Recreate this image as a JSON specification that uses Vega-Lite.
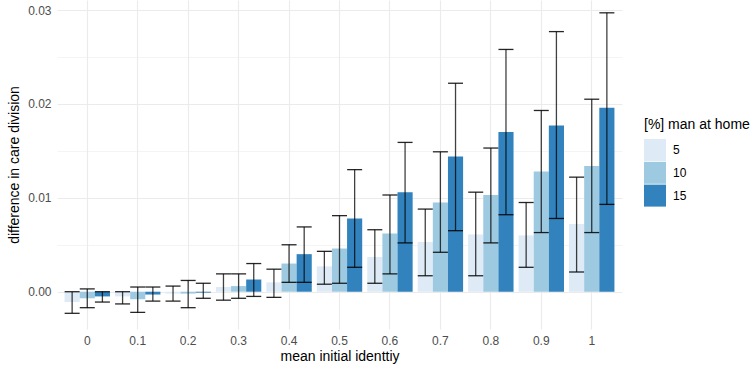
{
  "$schema": "https://vega.github.io/schema/vega-lite/v6.json",
  "width": 565,
  "height": 329,
  "autosize": {"type": "none"},
  "padding": {"left": 57, "top": 0, "right": 134, "bottom": 42},
  "background": "white",
  "config": {
    "font": "Liberation Sans",
    "view": {"stroke": null},
    "axis": {"domain": false, "ticks": false, "gridColor": "#ebebeb", "labelColor": "#4d4d4d", "labelFontSize": 12, "titleFontSize": 14, "titleFontWeight": "normal", "titleColor": "#000000", "labelFont": "Liberation Sans", "titleFont": "Liberation Sans"}
  },
  "data": {"values": [
    {"x": "0", "g": "5", "m": -0.0011, "lo": -0.0023, "hi": 0.0000},
    {"x": "0", "g": "10", "m": -0.0007, "lo": -0.0017, "hi": 0.0003},
    {"x": "0", "g": "15", "m": -0.0005, "lo": -0.0011, "hi": 0.0000},
    {"x": "0.1", "g": "5", "m": -0.0005, "lo": -0.0013, "hi": 0.0000},
    {"x": "0.1", "g": "10", "m": -0.0008, "lo": -0.0022, "hi": 0.0005},
    {"x": "0.1", "g": "15", "m": -0.0003, "lo": -0.0010, "hi": 0.0005},
    {"x": "0.2", "g": "5", "m": -0.0002, "lo": -0.0010, "hi": 0.0006},
    {"x": "0.2", "g": "10", "m": -0.0002, "lo": -0.0017, "hi": 0.0012},
    {"x": "0.2", "g": "15", "m": -0.0001, "lo": -0.0007, "hi": 0.0009},
    {"x": "0.3", "g": "5", "m": 0.0005, "lo": -0.0009, "hi": 0.0019},
    {"x": "0.3", "g": "10", "m": 0.0006, "lo": -0.0007, "hi": 0.0019},
    {"x": "0.3", "g": "15", "m": 0.0013, "lo": -0.0005, "hi": 0.0030},
    {"x": "0.4", "g": "5", "m": 0.0010, "lo": -0.0006, "hi": 0.0024},
    {"x": "0.4", "g": "10", "m": 0.0030, "lo": 0.0010, "hi": 0.0050},
    {"x": "0.4", "g": "15", "m": 0.0040, "lo": 0.0010, "hi": 0.0069},
    {"x": "0.5", "g": "5", "m": 0.0027, "lo": 0.0008, "hi": 0.0043},
    {"x": "0.5", "g": "10", "m": 0.0046, "lo": 0.0009, "hi": 0.0081},
    {"x": "0.5", "g": "15", "m": 0.0078, "lo": 0.0026, "hi": 0.0130},
    {"x": "0.6", "g": "5", "m": 0.0037, "lo": 0.0009, "hi": 0.0066},
    {"x": "0.6", "g": "10", "m": 0.0062, "lo": 0.0019, "hi": 0.0103},
    {"x": "0.6", "g": "15", "m": 0.0106, "lo": 0.0052, "hi": 0.0159},
    {"x": "0.7", "g": "5", "m": 0.0053, "lo": 0.0017, "hi": 0.0088},
    {"x": "0.7", "g": "10", "m": 0.0095, "lo": 0.0042, "hi": 0.0149},
    {"x": "0.7", "g": "15", "m": 0.0144, "lo": 0.0065, "hi": 0.0222},
    {"x": "0.8", "g": "5", "m": 0.0061, "lo": 0.0017, "hi": 0.0106},
    {"x": "0.8", "g": "10", "m": 0.0103, "lo": 0.0052, "hi": 0.0153},
    {"x": "0.8", "g": "15", "m": 0.0170, "lo": 0.0082, "hi": 0.0258},
    {"x": "0.9", "g": "5", "m": 0.0060, "lo": 0.0026, "hi": 0.0095},
    {"x": "0.9", "g": "10", "m": 0.0128, "lo": 0.0063, "hi": 0.0193},
    {"x": "0.9", "g": "15", "m": 0.0177, "lo": 0.0078, "hi": 0.0277},
    {"x": "1", "g": "5", "m": 0.0072, "lo": 0.0021, "hi": 0.0122},
    {"x": "1", "g": "10", "m": 0.0134, "lo": 0.0063, "hi": 0.0205},
    {"x": "1", "g": "15", "m": 0.0196, "lo": 0.0093, "hi": 0.0297}
  ]},
  "encoding": {
    "x": {"field": "x", "type": "nominal", "sort": ["0","0.1","0.2","0.3","0.4","0.5","0.6","0.7","0.8","0.9","1"],
      "scale": {"paddingInner": 0.1, "paddingOuter": 0.15},
      "axis": {"title": "mean initial identtiy", "labelAngle": 0, "labelPadding": 6, "titlePadding": 3, "bandPosition": 0.5, "grid": true, "gridWidth": 1.1}},
    "xOffset": {"field": "g", "type": "nominal", "sort": ["5","10","15"]}
  },
  "layer": [
    {
      "mark": {"type": "bar", "opacity": 1},
      "encoding": {
        "y": {"field": "m", "type": "quantitative",
          "scale": {"domain": [-0.00397, 0.031065], "nice": false, "zero": false},
          "axis": {"title": "difference in care division", "values": [0, 0.005, 0.01, 0.015, 0.02, 0.025, 0.03],
            "labelExpr": "abs(round(datum.value*200)) % 2 == 0 ? format(datum.value, '.2f') : ''",
            "gridWidth": {"condition": {"test": "abs(round(datum.value*200)) % 2 == 0", "value": 1.1}, "value": 0.55},
            "labelPadding": 6, "titlePadding": 6}},
        "color": {"field": "g", "type": "nominal", "sort": ["5","10","15"],
          "scale": {"domain": ["5","10","15"], "range": ["#deebf7", "#9ecae1", "#3182bd"]},
          "legend": {"title": "[%] man at home", "orient": "none", "legendX": 587, "legendY": 118,
            "symbolType": "square", "symbolSize": 484, "symbolStrokeWidth": 0, "symbolOpacity": 1,
            "titleFontSize": 14, "titleFontWeight": "normal", "titleColor": "#000000", "titlePadding": 7,
            "labelFontSize": 12, "labelColor": "#000000", "labelOffset": 7, "rowPadding": 0.8, "titleFont": "Liberation Sans", "labelFont": "Liberation Sans"}}
      }
    },
    {
      "mark": {"type": "rule", "color": "#000000", "opacity": 0.75, "strokeWidth": 1.3},
      "encoding": {
        "y": {"field": "lo", "type": "quantitative"},
        "y2": {"field": "hi"}
      }
    },
    {
      "mark": {"type": "tick", "color": "#000000", "opacity": 0.85, "thickness": 1.3, "size": 15, "orient": "horizontal"},
      "encoding": {"y": {"field": "lo", "type": "quantitative"}}
    },
    {
      "mark": {"type": "tick", "color": "#000000", "opacity": 0.85, "thickness": 1.3, "size": 15, "orient": "horizontal"},
      "encoding": {"y": {"field": "hi", "type": "quantitative"}}
    }
  ]
}
